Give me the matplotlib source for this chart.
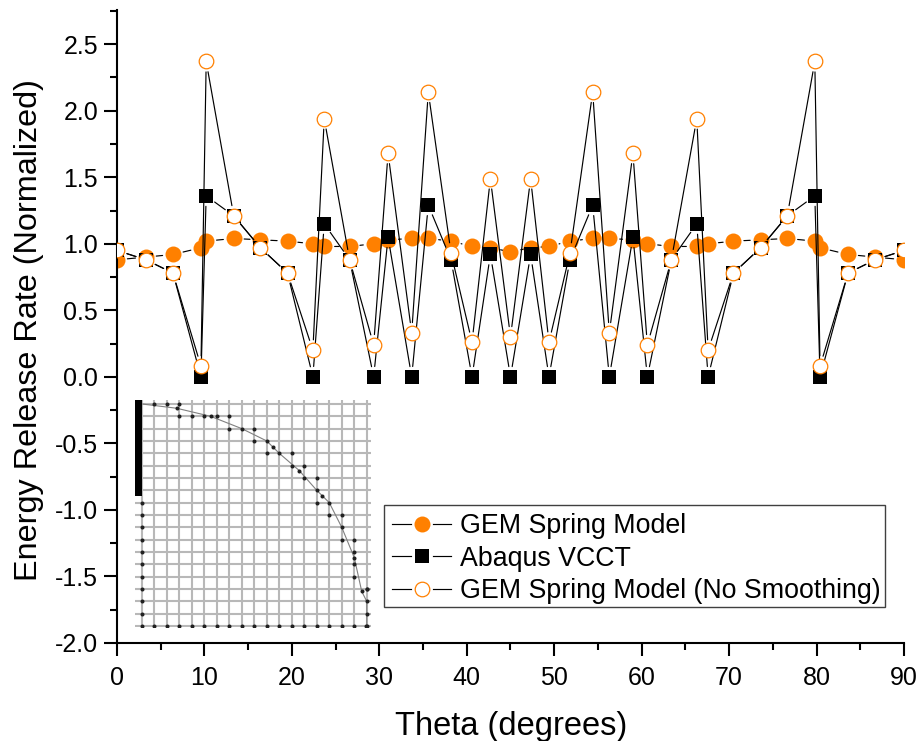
from matplotlib import pyplot as plt
from matplotlib.legend_handler import HandlerTuple
from matplotlib.lines import Line2D
from matplotlib.patches import Rectangle
from matplotlib.ticker import MultipleLocator, FormatStrFormatter
from matplotlib.transforms import IdentityTransform

plt.rcParams['font.family'] = ['Liberation Sans', 'DejaVu Sans']
plt.rcParams['axes.unicode_minus'] = False

ORANGE = '#ff8000'

# angles are mirrored about 45 degrees
theta = [0, 3.3, 6.4, 9.6, 10.2, 13.35, 16.4, 19.5, 22.4, 23.7, 26.6, 29.35, 31, 33.7, 35.6, 38.2, 40.6, 42.7,
         45, 47.3, 49.4, 51.8, 54.4, 56.3, 59, 60.65, 63.4, 66.3, 67.6, 70.5, 73.6, 76.65, 79.8, 80.4, 83.6, 86.7, 90]
gem = [0.88, 0.90, 0.92, 0.97, 1.02, 1.04, 1.03, 1.02, 1.00, 0.98, 0.98, 1.00, 1.03, 1.04, 1.04, 1.02, 0.98, 0.97,
       0.94, 0.97, 0.98, 1.02, 1.04, 1.04, 1.03, 1.00, 0.98, 0.98, 1.00, 1.02, 1.03, 1.04, 1.02, 0.97, 0.92, 0.90, 0.88]
vcct = [0.95, 0.88, 0.78, 0.0, 1.36, 1.21, 0.97, 0.78, 0.0, 1.15, 0.88, 0.0, 1.05, 0.0, 1.29, 0.88, 0.0, 0.92,
        0.0, 0.92, 0.0, 0.88, 1.29, 0.0, 1.05, 0.0, 0.88, 1.15, 0.0, 0.78, 0.97, 1.21, 1.36, 0.0, 0.78, 0.88, 0.95]
no_smooth = [0.95, 0.88, 0.78, 0.08, 2.37, 1.21, 0.97, 0.78, 0.20, 1.94, 0.88, 0.24, 1.68, 0.33, 2.14, 0.93, 0.26, 1.49,
             0.30, 1.49, 0.26, 0.93, 2.14, 0.33, 1.68, 0.24, 0.88, 1.94, 0.20, 0.78, 0.97, 1.21, 2.37, 0.08, 0.78, 0.88, 0.95]

# mesh picture, grid columns and rows
mesh_cols = list(range(19))
mesh_rows = list(range(19))
node_col = [1, 2, 3, 2.8, 3, 4, 5, 5.5, 6, 7, 7, 8, 9, 9, 10, 10.5, 10, 11, 12, 12, 13, 12.6, 13, 14, 14, 14.45, 14, 15,
            15, 16, 16, 16, 17, 17, 17, 17, 17, 18, 17.6, 18, 18, 18,
            0, 0, 0, 0, 0, 0, 0, 0, 0, 0, 0,
            1, 2, 3, 4, 5, 6, 7, 8, 9, 10, 11, 12, 13, 14, 15, 16, 17, 18, 17.9]
node_row = [0, 0, 0, 0.35, 1, 1, 1, 1, 1, 1, 2, 2, 2, 3, 3, 3.5, 4, 4, 4, 5, 5, 5.4, 6, 6, 7, 7.5, 8, 8,
            9, 9, 10, 11, 11, 12, 12.45, 13, 14, 15, 15.2, 15, 16, 17,
            8, 9, 10, 11, 12, 13, 14, 15, 16, 17, 18,
            18, 18, 18, 18, 18, 18, 18, 18, 18, 18, 18, 18, 18, 18, 18, 18, 18, 18, 18]
curve_col = [0, 2.8, 5.5, 8, 10, 11, 12.6, 14, 15, 16, 17, 17.6, 18, 18]
curve_row = [0, 0.35, 1, 2, 3, 4, 5.4, 7, 8, 10, 12.45, 15.2, 16, 18]


def gapped_line(ax, xs, ys, gap, zorder):
    # Origin style line, stops short of the symbols
    for i in range(len(xs) - 1):
        ann = ax.annotate('', xy=(xs[i + 1], ys[i + 1]), xytext=(xs[i], ys[i]), zorder=zorder,
                          arrowprops=dict(arrowstyle='-', color='black', lw=0.85, shrinkA=gap, shrinkB=gap))
        ann.arrow_patch.set_clip_on(False)


W, H = 920, 741
fig = plt.figure(figsize=(W / 100, H / 100), dpi=100)
ax = fig.add_axes([117 / W, 1 - 643 / H, (904 - 117) / W, (643 - 10) / H])

gapped_line(ax, theta, gem, 7.5, 1)
ax.plot(theta, gem, ls='none', marker='o', ms=11.5, mfc=ORANGE, mec=ORANGE, mew=0, zorder=2)
gapped_line(ax, theta, vcct, 7.5, 3)
ax.plot(theta, vcct, ls='none', marker='s', ms=9.6, mfc='black', mec='black', mew=0, zorder=4)
gapped_line(ax, theta, no_smooth, 7.5, 5)
ax.plot(theta, no_smooth, ls='none', marker='o', ms=10.5, mfc='white', mec=ORANGE, mew=0.9, zorder=6)

ax.set_xlim(0, 90)
ax.set_ylim(-2.0, 2.757)
ax.xaxis.set_major_locator(MultipleLocator(10))
ax.xaxis.set_minor_locator(MultipleLocator(5))
ax.yaxis.set_major_locator(MultipleLocator(0.5))
ax.yaxis.set_minor_locator(MultipleLocator(0.25))
ax.yaxis.set_major_formatter(FormatStrFormatter('%.1f'))
ax.tick_params(which='major', length=9.5, width=1.5, labelsize=18, pad=7)
ax.tick_params(axis='y', which='major', pad=4)
ax.tick_params(which='minor', length=5, width=1.5)
ax.spines['top'].set_visible(False)
ax.spines['right'].set_visible(False)
ax.spines['left'].set_linewidth(1.5)
ax.spines['bottom'].set_linewidth(1.5)
ax.set_xlabel('Theta (degrees)', fontsize=23.5)
ax.set_ylabel('Energy Release Rate (Normalized)', fontsize=23.3)
ax.xaxis.set_label_coords(511, H - 711, transform=IdentityTransform())
ax.yaxis.set_label_coords(44, H - 330, transform=IdentityTransform())

# mesh inset
x0, x1, y0, y1 = 135, 371, 400, 627
ins = fig.add_axes([x0 / W, 1 - y1 / H, (x1 - x0) / W, (y1 - y0) / H], zorder=10)
ins.set_xlim(-0.54, 18.34)
ins.set_ylim(18.08, -0.32)
ins.axis('off')
for c in mesh_cols:
    ins.axvline(c, color='#b8b8b8', lw=1.5, zorder=1)
for r in mesh_rows:
    ins.axhline(r, color='#b8b8b8', lw=1.5, zorder=1)
ins.plot(curve_col, curve_row, color='#808080', lw=0.8, zorder=2)
ins.plot(node_col, node_row, ls='none', marker='o', ms=2.9, mfc='#202020', mec='none', zorder=3)
ins.fill_betweenx([-0.32, 7.5], -0.54, 0.05, color='black', lw=0, zorder=4)

# legend symbols sit in a white gap on the line
def handle(marker, ms, mfc, mec, mew):
    line = Line2D([], [], color='black', lw=0.85)
    halo = Line2D([], [], ls='none', marker='o', ms=15, mfc='white', mec='none')
    sym = Line2D([], [], ls='none', marker=marker, ms=ms, mfc=mfc, mec=mec, mew=mew)
    return (line, halo, sym)


handles = [handle('o', 11.5, ORANGE, ORANGE, 0),
           handle('s', 9.6, 'black', 'black', 0),
           handle('o', 10.5, 'white', ORANGE, 0.9)]
labels = ['GEM Spring Model', 'Abaqus VCCT', 'GEM Spring Model (No Smoothing)']
leg = ax.legend(handles, labels, handler_map={tuple: HandlerTuple(ndivide=1, pad=0)},
                loc='upper left', bbox_to_anchor=(384 / W, 1 - 505 / H), bbox_transform=fig.transFigure,
                fontsize=19.3, frameon=False,
                handlelength=2.2, handletextpad=0.35, labelspacing=0.25, borderpad=0.3, borderaxespad=0)
leg.set_zorder(20)
# box drawn by hand, its right margin is tighter than the left one
ax.add_patch(Rectangle((384, H - 607), 501, 102, transform=IdentityTransform(), facecolor='white',
                       edgecolor='#404040', lw=1.0, clip_on=False, zorder=19))

fig.savefig('out.png', dpi=100)
